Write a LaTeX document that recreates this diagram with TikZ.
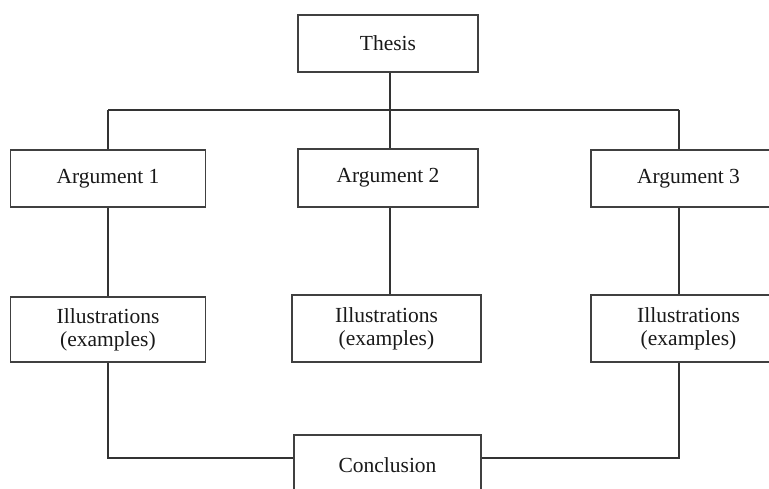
\documentclass[tikz,border=0pt]{standalone}
\usepackage{fontspec}
\setmainfont{Liberation Serif}
\begin{document}
\begin{tikzpicture}[x=1pt,y=-1pt,
  box/.style={draw=black!75, line width=1.4pt, fill=white, inner sep=0pt,
    align=center, font=\fontsize{21.5}{23}\selectfont, text=black!90},
  conn/.style={draw=black!80, line width=1.4pt}]
\useasboundingbox (0,0) rectangle (769,488);
\clip (0,0) rectangle (769,488);
% nodes
\node[box, minimum width=180pt, minimum height=57pt] (thesis) at (388,43.5) {Thesis};
\node[box, minimum width=195pt, minimum height=57pt] (arg1) at (108,178.5) {Argument 1};
\node[box, minimum width=180pt, minimum height=58pt] (arg2) at (388,178) {Argument 2};
\node[box, minimum width=195pt, minimum height=57pt] (arg3) at (688.5,178.5) {Argument 3};
\node[box, minimum width=195pt, minimum height=65pt] (ill1) at (108,329.5) {Illustrations\\(examples)};
\node[box, minimum width=189pt, minimum height=67pt] (ill2) at (386.5,328.5) {Illustrations\\(examples)};
\node[box, minimum width=195pt, minimum height=67pt] (ill3) at (688.5,328.5) {Illustrations\\(examples)};
\node[box, minimum width=187pt, minimum height=60pt] (concl) at (387.5,465) {Conclusion};
% junction coordinates
\coordinate (hl) at (108,110);
\coordinate (hm) at (390,110);
\coordinate (hr) at (679,110);
% connectors
\draw[conn] (thesis.south -| hm) -- (hm);
\draw[conn] (hl) -- (hr);
\draw[conn] (hl) -- (arg1.north);
\draw[conn] (hm) -- (arg2.north -| hm);
\draw[conn] (hr) -- (arg3.north -| hr);
\draw[conn] (arg1.south) -- (ill1.north);
\draw[conn] (arg2.south -| hm) -- (ill2.north -| hm);
\draw[conn] (arg3.south -| hr) -- (ill3.north -| hr);
\draw[conn] (ill1.south) |- ([yshift=7pt]concl.west);
\draw[conn] (ill3.south -| hr) |- ([yshift=7pt]concl.east);
\end{tikzpicture}
\end{document}
